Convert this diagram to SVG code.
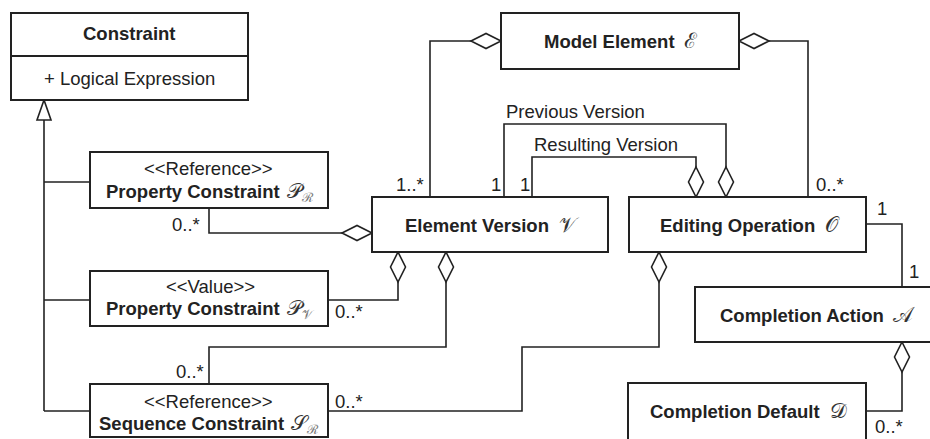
<svg xmlns="http://www.w3.org/2000/svg" xmlns:xlink="http://www.w3.org/1999/xlink" width="930" height="439" viewBox="0 0 930 439">
<style>
.box{fill:#fff;stroke:#222;stroke-width:2}
.ln{fill:none;stroke:#222;stroke-width:1.6}
.dia{fill:#fff;stroke:#222;stroke-width:1.6}
text{font-family:"Liberation Sans",Arial,sans-serif;font-size:18.5px;fill:#222}
.b{font-weight:bold}
.m{font-family:"DejaVu Serif","Noto Sans",serif;font-weight:normal;font-size:21px;fill:#333}
.s{font-family:"DejaVu Serif","Noto Sans",serif;font-weight:normal;font-size:13px;fill:#777}
</style>
<defs>
<path id="dv" class="dia" d="M0,0 L7.5,15 L0,30 L-7.5,15 Z"/>
<path id="dh" class="dia" d="M0,0 L15,-7.5 L30,0 L15,7.5 Z"/>
</defs>
<rect width="930" height="439" fill="#fff"/>
<g id="connectors">
<path class="ln" d="M44,411 V120 M44,182 H90 M44,300 H90 M44,411 H90"/>
<polygon class="dia" points="44,100 37,120 51,120"/>
<path class="ln" d="M209,208 V233 H342"/>
<path class="ln" d="M328,300 H398 V282"/>
<path class="ln" d="M209,384 V347 H446 V282"/>
<path class="ln" d="M328,411 H522 V347 H659 V282"/>
<path class="ln" d="M430,197 V41 H471"/>
<path class="ln" d="M808,197 V41 H769"/>
<path class="ln" d="M504,197 V124 H726 V167"/>
<path class="ln" d="M532,197 V157 H696 V167"/>
<path class="ln" d="M866,224 H902 V287"/>
<path class="ln" d="M866,411 H902 V372"/>
<use xlink:href="#dh" x="471" y="41"/>
<use xlink:href="#dh" x="739" y="41"/>
<use xlink:href="#dh" x="342" y="233"/>
<use xlink:href="#dv" x="398" y="252"/>
<use xlink:href="#dv" x="446" y="252"/>
<use xlink:href="#dv" x="696" y="167"/>
<use xlink:href="#dv" x="726" y="167"/>
<use xlink:href="#dv" x="659" y="252"/>
<use xlink:href="#dv" x="902" y="342"/>
<text x="506" y="118">Previous Version</text>
<text x="534" y="151">Resulting Version</text>
<text x="396" y="191">1..*</text>
<text x="491" y="191">1</text>
<text x="520" y="191">1</text>
<text x="816" y="191">0..*</text>
<text x="877" y="215">1</text>
<text x="909" y="278">1</text>
<text x="875" y="433">0..*</text>
<text x="172" y="231">0..*</text>
<text x="335" y="318">0..*</text>
<text x="176" y="378">0..*</text>
<text x="335" y="408">0..*</text>
</g>
<g id="constraint">
<rect class="box" x="11" y="13" width="237" height="87"/>
<line class="ln" x1="11" y1="56" x2="248" y2="56" style="stroke-width:2"/>
<text class="b" x="83" y="40">Constraint</text>
<text x="44" y="85">+ Logical Expression</text>
</g>
<g id="propRef">
<rect class="box" x="90" y="152" width="238" height="56"/>
<text x="144" y="175">&lt;&lt;Reference&gt;&gt;</text>
<text class="b" x="106" y="198">Property Constraint <tspan class="m" x="287">𝒫</tspan><tspan class="s" dy="4">ℛ</tspan></text>
</g>
<g id="propVal">
<rect class="box" x="90" y="271" width="238" height="55"/>
<text x="166" y="293">&lt;&lt;Value&gt;&gt;</text>
<text class="b" x="106" y="315">Property Constraint <tspan class="m" x="287">𝒫</tspan><tspan class="s" dy="4">𝒱</tspan></text>
</g>
<g id="seqRef">
<rect class="box" x="90" y="384" width="238" height="53"/>
<text x="144" y="408">&lt;&lt;Reference&gt;&gt;</text>
<text class="b" x="99" y="430">Sequence Constraint</text>
<text class="m" x="291" y="430">𝒮<tspan class="s" dy="4">ℛ</tspan></text>
</g>
<g id="modelElement">
<rect class="box" x="501" y="13" width="238" height="56"/>
<text class="b" x="544" y="48">Model Element <tspan class="m" x="684">ℰ</tspan></text>
</g>
<g id="elementVersion">
<rect class="box" x="372" y="197" width="236" height="55"/>
<text class="b" x="405" y="232">Element Version <tspan class="m" x="559">𝒱</tspan></text>
</g>
<g id="editingOperation">
<rect class="box" x="629" y="197" width="237" height="55"/>
<text class="b" x="660" y="232">Editing Operation <tspan class="m" x="825">𝒪</tspan></text>
</g>
<g id="completionAction">
<rect class="box" x="695" y="287" width="245" height="55"/>
<text class="b" x="720" y="322">Completion Action <tspan class="m" x="893">𝒜</tspan></text>
</g>
<g id="completionDefault">
<rect class="box" x="628" y="383" width="238" height="65"/>
<text class="b" x="650" y="418">Completion Default <tspan class="m" x="830">𝒟</tspan></text>
</g>
</svg>
